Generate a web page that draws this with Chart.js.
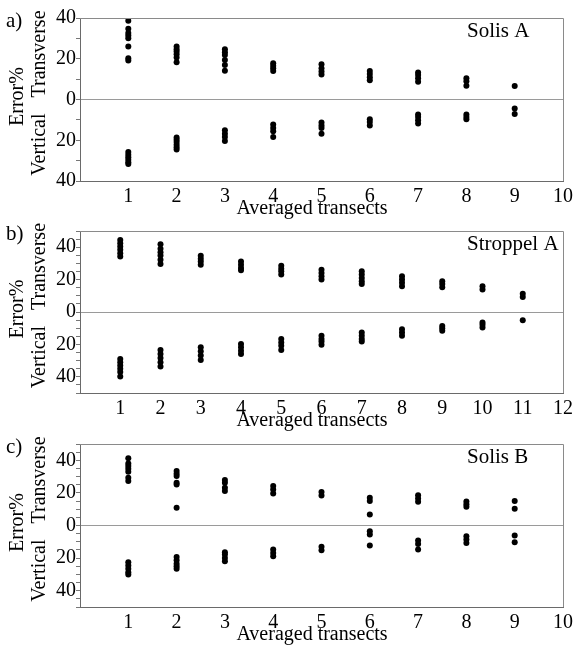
<!DOCTYPE html>
<html>
<head>
<meta charset="utf-8">
<script src="https://cdn.jsdelivr.net/npm/chart.js@4.4.0/dist/chart.umd.min.js"></script>
<style>
  html, body { margin: 0; padding: 0; background: #fff; }
  #wrap { position: relative; width: 577px; height: 645px; }
  canvas { position: absolute; left: 0; top: 0; }
</style>
</head>
<body>
<div id="wrap">
  <canvas id="cA" width="577" height="645"></canvas>
  <canvas id="cB" width="577" height="645"></canvas>
  <canvas id="cC" width="577" height="645"></canvas>
</div>
<script>
// ---------- Data (error %) ----------
// Each inner array = the values plotted at one "averaged transects" count (1, 2, 3, ...)
const solisA_transverse = [
  [38.7, 34.7, 32.6, 31.4, 30.1, 26.0, 20.2, 19.1],
  [26.0, 24.7, 23.5, 22.2, 20.6, 18.3],
  [24.7, 23.2, 21.9, 19.4, 16.9, 14.1],
  [17.8, 16.6, 15.3, 14.0],
  [17.3, 15.3, 13.7, 12.3],
  [14.0, 12.5, 10.9, 9.5],
  [13.3, 12.0, 10.4, 8.7],
  [10.4, 9.0, 6.7],
  [6.6]
];
const solisA_vertical = [
  [25.8, 27.1, 28.3, 29.6, 30.8, 31.7],
  [18.6, 19.7, 20.9, 22.2, 23.4, 24.5],
  [15.1, 16.8, 18.4, 20.4],
  [12.3, 14.0, 15.6, 18.4],
  [11.3, 12.7, 14.0, 16.8],
  [9.7, 11.0, 12.7],
  [7.4, 8.6, 10.2, 11.8],
  [7.4, 8.6, 9.7],
  [4.4, 7.1]
];
const stroppelA_transverse = [
  [44.5, 42.4, 40.4, 38.4, 36.3, 34.3],
  [41.8, 39.0, 36.9, 34.9, 32.2, 29.6],
  [34.7, 32.9, 31.2, 29.2],
  [31.2, 29.2, 27.1, 25.7],
  [28.6, 26.7, 25.1, 23.1],
  [26.1, 24.1, 22.0, 20.0],
  [25.1, 23.1, 21.0, 19.0, 17.3],
  [22.0, 20.0, 18.0, 15.9],
  [19.0, 17.3, 15.3],
  [15.9, 13.9],
  [11.2, 9.2]
];
const stroppelA_vertical = [
  [29.0, 31.0, 33.1, 35.1, 37.1, 39.8],
  [23.5, 25.9, 28.4, 31.0, 33.7],
  [21.8, 24.3, 26.9, 29.6],
  [19.8, 21.8, 23.9, 25.9],
  [16.7, 18.8, 20.8, 23.5],
  [14.7, 16.7, 18.2, 20.2],
  [12.7, 14.7, 16.7, 18.2],
  [10.6, 12.7, 14.7],
  [8.6, 10.0, 11.6],
  [6.5, 7.9, 9.6],
  [5.1]
];
const solisB_transverse = [
  [41.2, 38.1, 36.5, 34.8, 33.0, 29.3, 27.3],
  [33.4, 31.8, 30.3, 26.2, 25.2, 10.9],
  [27.9, 26.2, 23.2, 21.1],
  [24.2, 22.1, 19.7],
  [20.5, 18.4],
  [17.0, 15.0, 6.8],
  [18.5, 16.5, 14.5],
  [14.8, 13.0, 11.5],
  [15.0, 10.2]
];
const solisB_vertical = [
  [22.5, 24.6, 26.6, 28.7, 30.1],
  [19.3, 21.3, 23.4, 25.0, 26.6],
  [16.4, 17.8, 19.9, 21.9],
  [14.8, 16.8, 18.9],
  [13.1, 15.2],
  [3.5, 5.5, 12.3],
  [9.2, 11.3, 14.8],
  [6.6, 8.6, 10.7],
  [6.1, 10.2]
];
const panelLetters = ['a)', 'b)', 'c)'];
const panelNames = ['Solis A', 'Stroppel A', 'Solis B'];
const xAxisTitle = 'Averaged transects';
const yTitleLine1 = 'Error%';
const yTitleUpper = 'Transverse';
const yTitleLower = 'Vertical';

// ---------- Helpers ----------
const SERIF = "'Liberation Serif', 'Times New Roman', serif";
function toPoints(cols, sign) {
  const pts = [];
  cols.forEach((vals, i) => vals.forEach(v => pts.push({ x: i + 1, y: sign * v })));
  return pts;
}

function makePanel(canvasId, idx, trans, vert, xMax, yMax, yStep, area) {
  const W = 577, H = 645, XH = 30, YW = 80;
  const textPlugin = {
    id: 'panelText' + idx,
    afterDraw(chart) {
      const ctx = chart.ctx;
      const ca = chart.chartArea;
      const zeroY = chart.scales.y.getPixelForValue(0);
      ctx.save();
      // frame (top + right)
      ctx.strokeStyle = '#8a8a8a';
      ctx.lineWidth = 1;
      ctx.beginPath();
      ctx.moveTo(ca.left, ca.top + 0.5);
      ctx.lineTo(ca.right + 0.5, ca.top + 0.5);
      ctx.lineTo(ca.right + 0.5, ca.bottom);
      ctx.stroke();
      ctx.fillStyle = '#000';
      // panel letter
      ctx.font = '21px ' + SERIF;
      ctx.textAlign = 'left';
      ctx.textBaseline = 'alphabetic';
      ctx.fillText(panelLetters[idx], 6, ca.top + 9);
      // panel name
      ctx.fillText(panelNames[idx], 467, ca.top + 19);
      // x title
      ctx.font = '20px ' + SERIF;
      ctx.textAlign = 'center';
      ctx.fillText(xAxisTitle, 312, ca.bottom + 33);
      // y title (rotated)
      ctx.font = '20px ' + SERIF;
      ctx.save();
      ctx.translate(23, zeroY);
      ctx.rotate(-Math.PI / 2);
      ctx.textAlign = 'center';
      ctx.fillText(yTitleLine1, 3, 0);
      ctx.restore();
      ctx.save();
      ctx.translate(45, zeroY);
      ctx.rotate(-Math.PI / 2);
      ctx.textAlign = 'left';
      ctx.fillText(yTitleUpper, 2, 0);
      ctx.textAlign = 'right';
      ctx.fillText(yTitleLower, -14, 0);
      ctx.restore();
      ctx.restore();
    }
  };
  return new Chart(document.getElementById(canvasId), {
    type: 'scatter',
    data: {
      datasets: [
        { label: 'Transverse', data: toPoints(trans, 1) },
        { label: 'Vertical', data: toPoints(vert, -1) }
      ]
    },
    options: {
      responsive: false,
      animation: false,
      events: [],
      layout: {
        padding: { top: area.top, bottom: H - area.bottom - XH, left: 0, right: W - 564 }
      },
      elements: {
        point: { radius: 3, backgroundColor: '#000', borderWidth: 0, pointStyle: 'circle' }
      },
      plugins: { legend: { display: false }, tooltip: { enabled: false } },
      scales: {
        x: {
          type: 'linear', min: 0, max: xMax,
          afterFit(s) { s.height = XH; },
          border: { color: '#6a6a6a', width: 1 },
          grid: { display: true, drawOnChartArea: false, drawTicks: false },
          ticks: {
            stepSize: 1, autoSkip: false, padding: 4, color: '#000',
            font: { family: SERIF, size: 20 },
            callback: v => (v === 0 ? '' : String(v))
          }
        },
        y: {
          type: 'linear', min: -yMax, max: yMax,
          afterFit(s) { s.width = YW; },
          border: { color: '#6a6a6a', width: 1 },
          grid: {
            drawOnChartArea: true, drawTicks: true, tickLength: 4,
            color: c => (c.tick && c.tick.value === 0 ? '#9a9a9a' : 'rgba(0,0,0,0)'),
            tickColor: '#777', lineWidth: 1
          },
          ticks: {
            stepSize: yStep, autoSkip: false, padding: 0, color: '#000',
            font: { family: SERIF, size: 20 },
            callback: v => (v % 20 === 0 ? String(Math.abs(v)) : '')
          }
        }
      }
    },
    plugins: [textPlugin]
  });
}

makePanel('cA', 0, solisA_transverse, solisA_vertical, 10, 40, 10, { top: 18, bottom: 181 });
makePanel('cB', 1, stroppelA_transverse, stroppelA_vertical, 12, 50, 5, { top: 231, bottom: 393 });
makePanel('cC', 2, solisB_transverse, solisB_vertical, 10, 50, 5, { top: 444, bottom: 607 });
</script>
</body>
</html>
